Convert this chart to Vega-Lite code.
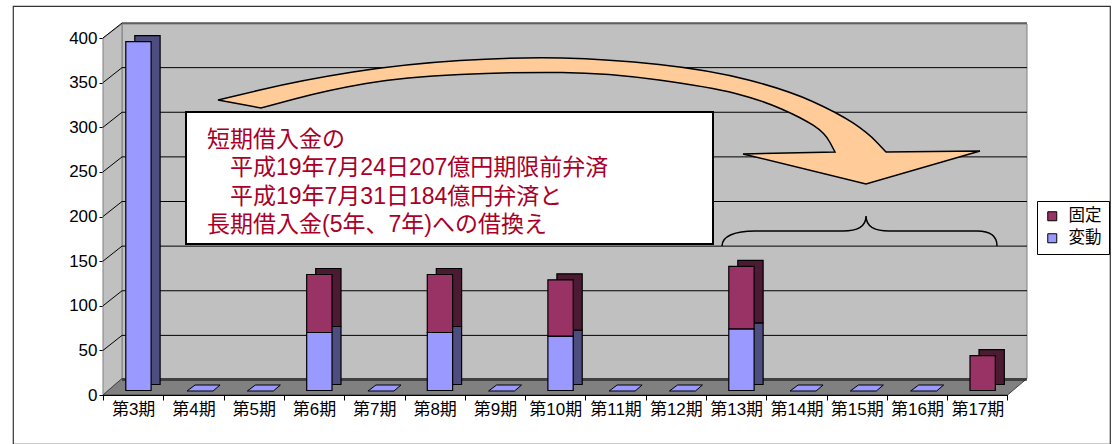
{
  "$schema": "https://vega.github.io/schema/vega-lite/v6.json",
  "width": 1097,
  "height": 438,
  "autosize": {"type": "none"},
  "padding": {"left": 13, "top": 6, "right": 2, "bottom": 0},
  "background": "white",
  "config": {
    "view": {"stroke": "#333333", "strokeWidth": 1.2, "fill": "white"},
    "font": "Liberation Sans, Noto Sans CJK JP",
    "axisY": {"offset": -90, "domainColor": "#000", "tickColor": "#000", "tickSize": 4, "labelFontSize": 17, "labelFont": "Liberation Sans", "labelColor": "#000", "labelPadding": 2, "grid": false},
    "axisX": {"offset": -49, "domainColor": "#000", "tickColor": "#000", "tickSize": 5, "tickBand": "extent", "labelFontSize": 17, "labelFont": "Liberation Sans, Noto Sans CJK JP", "labelColor": "#000", "labelPadding": 1, "labelAngle": 0, "labelOverlap": false, "grid": false}
  },
  "datasets": {
    "bars": [
      {"period": "第3期", "type": "変動", "value": 391},
      {"period": "第4期", "type": "変動", "value": 0},
      {"period": "第5期", "type": "変動", "value": 0},
      {"period": "第6期", "type": "変動", "value": 65},
      {"period": "第6期", "type": "固定", "value": 65},
      {"period": "第7期", "type": "変動", "value": 0},
      {"period": "第8期", "type": "変動", "value": 65},
      {"period": "第8期", "type": "固定", "value": 65},
      {"period": "第9期", "type": "変動", "value": 0},
      {"period": "第10期", "type": "変動", "value": 61},
      {"period": "第10期", "type": "固定", "value": 63},
      {"period": "第11期", "type": "変動", "value": 0},
      {"period": "第12期", "type": "変動", "value": 0},
      {"period": "第13期", "type": "変動", "value": 69},
      {"period": "第13期", "type": "固定", "value": 70},
      {"period": "第14期", "type": "変動", "value": 0},
      {"period": "第15期", "type": "変動", "value": 0},
      {"period": "第16期", "type": "変動", "value": 0},
      {"period": "第17期", "type": "固定", "value": 39}
    ],
    "grid": [
      {"v": 0}, {"v": 50}, {"v": 100}, {"v": 150}, {"v": 200},
      {"v": 250}, {"v": 300}, {"v": 350}, {"v": 400}
    ]
  },
  "layer": [
    {
      "data": {"name": "grid"},
      "transform": [{"filter": "datum.v == 0"}],
      "mark": {"type": "rect", "fill": "#C0C0C0", "stroke": "#808080", "strokeWidth": 1, "xOffset": 19, "x2Offset": 19.5, "yOffset": -14, "y2Offset": -16.5},
      "encoding": {
        "x": {"datum": "第3期", "bandPosition": 0, "title": null},
        "x2": {"datum": "第17期", "bandPosition": 1},
        "y": {"datum": 400, "type": "quantitative", "title": null},
        "y2": {"datum": 0}
      }
    },
    {
      "data": {"name": "grid"},
      "transform": [{"filter": "datum.v == 0"}],
      "mark": {"type": "point", "shape": "M-0.0475,0.8925 L-0.0475,-0.8925 L0.0475,-0.9625 L0.0475,0.81 Z", "size": 160000, "filled": true, "fill": "#C0C0C0", "stroke": "#808080", "strokeWidth": 1, "opacity": 1},
      "encoding": {
        "x": {"datum": "第3期", "bandPosition": 0.1575, "title": null},
        "y": {"datum": 200, "type": "quantitative", "title": null}
      }
    },
    {
      "data": {"name": "grid"},
      "transform": [{"filter": "datum.v == 0"}],
      "mark": {"type": "point", "shape": "M-0.983,0.01755 L0.9415,0.01755 L0.983,-0.01755 L-0.9426,-0.01755 Z", "size": 883600, "filled": true, "fill": "#808080", "stroke": "#404040", "strokeWidth": 1, "opacity": 1},
      "encoding": {
        "x": {"datum": "第10期", "bandPosition": 0.6617, "title": null},
        "y": {"datum": 9.244, "type": "quantitative", "title": null}
      }
    },
    {
      "data": {"name": "grid"},
      "mark": {"type": "rule", "color": "#000", "strokeWidth": 1, "xOffset": 19, "x2Offset": 19.5, "yOffset": -15},
      "encoding": {
        "x": {"datum": "第3期", "bandPosition": 0, "title": null},
        "x2": {"datum": "第17期", "bandPosition": 1},
        "y": {"field": "v", "type": "quantitative", "title": null}
      }
    },
    {
      "data": {"name": "grid"},
      "transform": [{"filter": "datum.v > 0"}],
      "mark": {"type": "rule", "color": "#000", "strokeWidth": 1, "x2Offset": 19, "y2Offset": -15},
      "encoding": {
        "x": {"datum": "第3期", "bandPosition": 0, "title": null},
        "x2": {"datum": "第3期", "bandPosition": 0},
        "y": {"field": "v", "type": "quantitative", "title": null},
        "y2": {"field": "v"}
      }
    },
    {
      "data": {"name": "bars"},
      "transform": [{"filter": "datum.value == 0"}],
      "mark": {"type": "point", "shape": "M-0.64,-0.4 L1.96,-0.4 L2.66,-1 L0.16,-1 Z", "size": 400, "filled": true, "fill": "#9999FF", "stroke": "#000", "strokeWidth": 1, "opacity": 1},
      "encoding": {
        "x": {"field": "period", "type": "nominal", "title": null},
        "y": {"field": "value", "type": "quantitative", "title": null}
      }
    },
    {
      "data": {"name": "bars"},
      "transform": [{"filter": "datum.value > 0"}],
      "mark": {"type": "bar", "width": {"band": 0.42}, "stroke": "#000", "strokeWidth": 1.2, "xOffset": 14.3, "x2Offset": 14.3, "yOffset": -10.5, "y2Offset": -10.5},
      "encoding": {
        "x": {"field": "period", "type": "nominal", "title": null},
        "y": {"field": "value", "type": "quantitative", "stack": "zero", "title": null},
        "fill": {"field": "type", "type": "nominal", "scale": {"domain": ["変動", "固定"], "range": ["#4D4D80", "#4D1A33"]}, "legend": null},
        "detail": {"field": "type"},
        "order": {"field": "type", "sort": "descending"}
      }
    },
    {
      "data": {"name": "bars"},
      "transform": [{"filter": "datum.value > 0"}],
      "mark": {"type": "bar", "width": {"band": 0.42}, "stroke": "#000", "strokeWidth": 1.2, "xOffset": 5.3, "x2Offset": 5.3, "yOffset": -4.5, "y2Offset": -4.5},
      "encoding": {
        "x": {
          "field": "period", "type": "nominal", "title": null,
          "scale": {"type": "band", "domain": ["第3期", "第4期", "第5期", "第6期", "第7期", "第8期", "第9期", "第10期", "第11期", "第12期", "第13期", "第14期", "第15期", "第16期", "第17期"], "range": [90, 994.5], "paddingInner": 0, "paddingOuter": 0},
          "axis": {"title": null}
        },
        "y": {
          "field": "value", "type": "quantitative", "stack": "zero", "title": null,
          "scale": {"domain": [0, 400], "range": [389, 32], "nice": false, "zero": true},
          "axis": {"title": null, "values": [0, 50, 100, 150, 200, 250, 300, 350, 400]}
        },
        "color": {
          "field": "type", "type": "nominal",
          "scale": {"domain": ["固定", "変動"], "range": ["#993366", "#9999FF"]},
          "legend": {"title": null, "orient": "none", "legendX": 1024, "legendY": 195, "symbolType": "square", "symbolSize": 81, "symbolStrokeColor": "#000", "symbolStrokeWidth": 1, "symbolOpacity": 1, "labelFontSize": 16.5, "labelFont": "Noto Sans CJK JP", "labelColor": "#000", "strokeColor": "#000", "fillColor": "#fff", "padding": 7, "rowPadding": 5, "labelOffset": 8}
        },
        "order": {"field": "type", "sort": "descending"}
      }
    },
    {
      "data": {"name": "grid"},
      "transform": [{"filter": "datum.v == 0"}],
      "mark": {"type": "point", "shape": "M-1,-0.0538 L-0.8898,-0.0801 Q-0.7795,-0.1063 -0.6457,-0.1273 Q-0.5118,-0.1483 -0.3648,-0.1575 Q-0.2178,-0.1667 -0.0971,-0.1641 Q0.0236,-0.1614 0.1575,-0.147 Q0.2913,-0.1325 0.3924,-0.1063 Q0.4934,-0.0801 0.5604,-0.0499 Q0.6273,-0.0197 0.6667,0.0066 Q0.706,0.0328 0.7297,0.0578 L0.7533,0.0827 L1,0.0801 L0.7008,0.1667 L0.378,0.0879 L0.6194,0.0827 L0.6063,0.0578 Q0.5932,0.0328 0.563,0.0131 Q0.5328,-0.0066 0.479,-0.0302 Q0.4252,-0.0538 0.3583,-0.0709 Q0.2913,-0.0879 0.1575,-0.1063 Q0.0236,-0.1247 -0.0971,-0.126 Q-0.2178,-0.1273 -0.3648,-0.1208 Q-0.5118,-0.1142 -0.6116,-0.0972 Q-0.7113,-0.0801 -0.7992,-0.0565 L-0.8871,-0.0328 Z", "size": 580644, "filled": true, "fill": "#FFCC99", "stroke": "#000", "strokeWidth": 1.5, "opacity": 1},
      "encoding": {
        "x": {"datum": "第11期", "bandPosition": 0.2255, "title": null},
        "y": {"datum": 307.6, "type": "quantitative", "title": null}
      }
    },
    {
      "data": {"name": "grid"},
      "transform": [{"filter": "datum.v == 0"}],
      "mark": {"type": "rect", "fill": "#FFFFFF", "stroke": "#000", "strokeWidth": 2},
      "encoding": {
        "x": {"datum": "第4期", "bandPosition": 0.3765, "title": null},
        "x2": {"datum": "第13期", "bandPosition": 0.116},
        "y": {"datum": 317.1, "type": "quantitative", "title": null},
        "y2": {"datum": 169.2}
      }
    },
    {
      "data": {"name": "grid"},
      "transform": [{"filter": "datum.v == 0"}],
      "mark": {"type": "text", "text": "短期借入金の", "align": "left", "baseline": "middle", "fontSize": 23, "font": "Liberation Sans, Noto Sans CJK JP", "color": "#AA0028"},
      "encoding": {
        "x": {"datum": "第4期", "bandPosition": 0.7247, "title": null},
        "y": {"datum": 285.7, "type": "quantitative", "title": null}
      }
    },
    {
      "data": {"name": "grid"},
      "transform": [{"filter": "datum.v == 0"}],
      "mark": {"type": "text", "text": "平成19年7月24日207億円期限前弁済", "align": "left", "baseline": "middle", "fontSize": 23, "font": "Liberation Sans, Noto Sans CJK JP", "color": "#AA0028"},
      "encoding": {
        "x": {"datum": "第5期", "bandPosition": 0.106, "title": null},
        "y": {"datum": 254.3, "type": "quantitative", "title": null}
      }
    },
    {
      "data": {"name": "grid"},
      "transform": [{"filter": "datum.v == 0"}],
      "mark": {"type": "text", "text": "平成19年7月31日184億円弁済と", "align": "left", "baseline": "middle", "fontSize": 23, "font": "Liberation Sans, Noto Sans CJK JP", "color": "#AA0028"},
      "encoding": {
        "x": {"datum": "第5期", "bandPosition": 0.106, "title": null},
        "y": {"datum": 222.4, "type": "quantitative", "title": null}
      }
    },
    {
      "data": {"name": "grid"},
      "transform": [{"filter": "datum.v == 0"}],
      "mark": {"type": "text", "text": "長期借入金(5年、7年)への借換え", "align": "left", "baseline": "middle", "fontSize": 23, "font": "Liberation Sans, Noto Sans CJK JP", "color": "#AA0028"},
      "encoding": {
        "x": {"datum": "第4期", "bandPosition": 0.7247, "title": null},
        "y": {"datum": 190.5, "type": "quantitative", "title": null}
      }
    },
    {
      "data": {"name": "grid"},
      "transform": [{"filter": "datum.v == 0"}],
      "mark": {"type": "point", "shape": "M-1,0.1091 C-1,0.0364 -0.9055,0 -0.76,0 L-0.12,0 C-0.0182,0 0.0473,-0.0291 0.0473,-0.1091 C0.0473,-0.0291 0.1127,0 0.2145,0 L0.8545,0 C0.9491,0 1,0.0364 1,0.1091", "size": 75625, "filled": false, "stroke": "#000", "strokeWidth": 1.5, "opacity": 1},
      "encoding": {
        "x": {"datum": "第15期", "bandPosition": 0.546, "title": null},
        "y": {"datum": 183.75, "type": "quantitative", "title": null}
      }
    }
  ]
}
